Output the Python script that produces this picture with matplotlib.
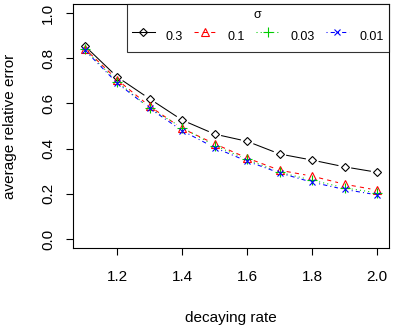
import matplotlib
matplotlib.use("Agg")
import matplotlib.pyplot as plt
import numpy as np

plt.rcParams['font.family'] = ['Liberation Sans', 'DejaVu Sans']

# decaying rate on x, average relative error per sigma
rate = [1.1, 1.2, 1.3, 1.4, 1.5, 1.6, 1.7, 1.8, 1.9, 2.0]
err_03 = [0.855, 0.717, 0.620, 0.526, 0.464, 0.432, 0.376, 0.349, 0.319, 0.295]
err_01 = [0.843, 0.705, 0.587, 0.489, 0.421, 0.358, 0.304, 0.278, 0.242, 0.216]
err_003 = [0.840, 0.696, 0.578, 0.493, 0.413, 0.352, 0.295, 0.260, 0.226, 0.204]
err_001 = [0.836, 0.690, 0.578, 0.479, 0.404, 0.344, 0.292, 0.251, 0.219, 0.195]
sigmas = ['0.3', '0.1', '0.03', '0.01']

series = [err_03, err_01, err_003, err_001]
colors = ['black', '#FF0000', '#00CD00', '#0000FF']
markers = ['D', '^', '+', 'x']
msizes = [4.2, 6, 6.5, 5]
dashes = ['-', (0, (4, 4)), (0, (1, 3)), (0, (1, 3, 4, 3))]
fs = 11
fs_leg = 9

fig = plt.figure(figsize=(3.93, 3.27), dpi=100)
ax = fig.add_axes([73/393, 1 - 248/327, 316/393, 244/327])
ax.set_xlim(1.064, 2.036)
ax.set_ylim(-0.04, 1.04)

gap = 7.0  # pixels left free around each point, like R type="b"


def gapped(xs, ys):
    pts = ax.transData.transform(np.column_stack([xs, ys]))
    out = []
    for a, b in zip(pts[:-1], pts[1:]):
        d = b - a
        L = np.hypot(*d)
        if L <= 2 * gap:
            continue
        u = d / L
        seg = ax.transData.inverted().transform([a + u * gap, b - u * gap])
        out.append(seg)
    return out


for ys, c, m, ms, ls in zip(series, colors, markers, msizes, dashes):
    for seg in gapped(rate, ys):
        ax.plot(seg[:, 0], seg[:, 1], color=c, lw=0.75, linestyle=ls)
    ax.plot(rate, ys, linestyle='none', marker=m, ms=ms, mfc='none',
            mec=c, mew=0.8)

# legend handles
handles = []
for c, m, ms, ls in zip(colors, markers, msizes, dashes):
    h, = ax.plot([], [], color=c, lw=0.75, linestyle=ls, marker=m, ms=ms,
                 mfc='none', mec=c, mew=0.8)
    handles.append(h)
leg = ax.legend(handles, sigmas, title='σ', ncol=4, loc='upper right',
                bbox_to_anchor=(1.0, 1.0), borderaxespad=0, frameon=True,
                fancybox=False, edgecolor='black', fontsize=fs_leg,
                title_fontsize=fs_leg, handlelength=1.84, handleheight=2.3,
                handletextpad=0.88, columnspacing=0.88, borderpad=0.4,
                labelspacing=0.3)
leg.get_frame().set_linewidth(0.8)

ax.set_xticks([1.2, 1.4, 1.6, 1.8, 2.0])
ax.set_xticklabels(['1.2', '1.4', '1.6', '1.8', '2.0'])
ax.set_yticks([0.0, 0.2, 0.4, 0.6, 0.8, 1.0])
ax.set_yticklabels(['0.0', '0.2', '0.4', '0.6', '0.8', '1.0'], rotation=90,
                   va='center')
ax.tick_params(length=5, width=0.8, labelsize=fs)
ax.tick_params(axis='x', pad=11)
ax.tick_params(axis='y', pad=8)
for s in ax.spines.values():
    s.set_linewidth(0.8)

ax.set_xlabel('decaying rate', fontsize=fs, labelpad=19)
ax.set_ylabel('average relative error', fontsize=fs, labelpad=17)

fig.savefig('out.png', dpi=100)
